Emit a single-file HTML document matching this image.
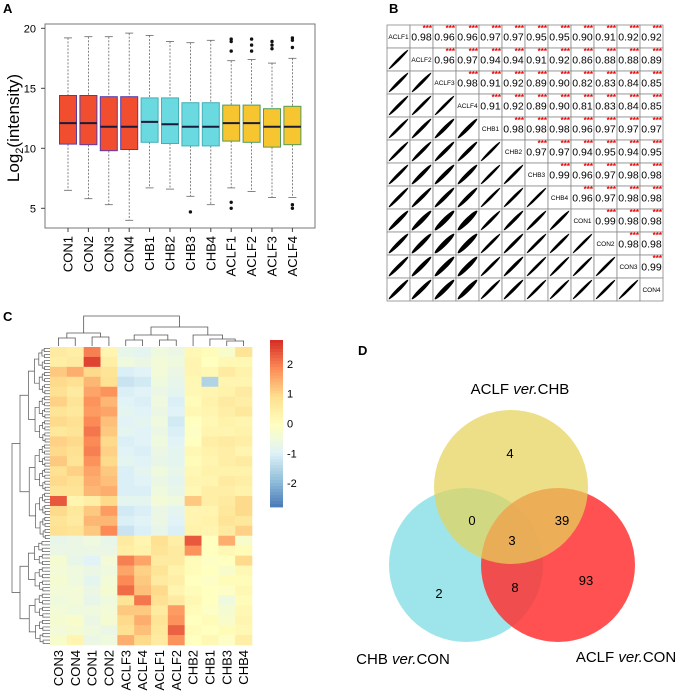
<!DOCTYPE html>
<html><head><meta charset="utf-8"><style>
body{margin:0;background:#fff}
svg{display:block;font-family:"Liberation Sans",Arial,sans-serif}
</style></head><body>
<svg id="fig" width="685" height="697" viewBox="0 0 685 697">
<g id="pa"></g>
<g id="pb"></g>
<g id="pc"></g>
<g id="pd"></g>
</svg>
<script>
// ---------- Panel A data ----------
const samplesA=["CON1","CON2","CON3","CON4","CHB1","CHB2","CHB3","CHB4","ACLF1","ACLF2","ACLF3","ACLF4"];
const q3=[14.4,14.4,14.3,14.3,14.2,14.2,13.8,13.8,13.6,13.6,13.3,13.5];
const med=[12.1,12.1,11.8,11.8,12.2,12.0,11.8,11.8,12.1,12.1,11.8,11.8];
const q1=[10.35,10.3,9.8,9.9,10.5,10.4,10.2,10.2,10.6,10.5,10.1,10.3];
const whiskHi=[19.2,19.3,19.3,19.6,19.4,18.9,18.8,19.0,17.3,17.4,17.1,17.5];
const whiskLo=[6.5,5.8,5.3,4.0,6.7,6.6,6.0,5.3,6.7,6.4,5.9,5.9];
const outliers=[[],[],[],[],[],[],[4.7],[],[19.1,18.9,18.1,5.5,5.0],[19.1,18.6,18.1],[18.9,18.6,18.3],[19.2,19.0,18.4,5.3,5.0]];
const yTicksA=[5,10,15,20];
// ---------- Panel B data ----------
const namesB=["ACLF1","ACLF2","ACLF3","ACLF4","CHB1","CHB2","CHB3","CHB4","CON1","CON2","CON3","CON4"];
const corrRows=[
[0.98,0.96,0.96,0.97,0.97,0.95,0.95,0.90,0.91,0.92,0.92],
[0.96,0.97,0.94,0.94,0.91,0.92,0.86,0.88,0.88,0.89],
[0.98,0.91,0.92,0.89,0.90,0.82,0.83,0.84,0.85],
[0.91,0.92,0.89,0.90,0.81,0.83,0.84,0.85],
[0.98,0.98,0.98,0.96,0.97,0.97,0.97],
[0.97,0.97,0.94,0.95,0.94,0.95],
[0.99,0.96,0.97,0.98,0.98],
[0.96,0.97,0.98,0.98],
[0.99,0.98,0.98],
[0.98,0.98],
[0.99]];
// ---------- Panel C data ----------
const colsC=["CON3","CON4","CON1","CON2","ACLF3","ACLF4","ACLF1","ACLF2","CHB2","CHB1","CHB3","CHB4"];
const heatRows=[
[0.6,0.5,2.0,0.3,-0.7,-0.8,-0.5,-0.6,0.2,0.1,-0.2,0.8],
[0.5,0.6,2.6,0.5,-0.5,-0.6,-0.4,-0.5,0.3,0.0,0.2,0.2],
[1.2,1.5,1.0,0.8,-1.0,-0.9,-0.4,-0.6,0.3,0.2,0.6,0.4],
[1.0,0.9,1.4,0.9,-1.2,-1.1,-0.5,-0.7,0.2,-1.5,0.3,0.3],
[0.9,0.6,1.6,1.8,-1.0,-0.9,-0.6,-0.8,0.2,0.3,0.4,0.6],
[1.1,0.8,1.8,1.4,-0.9,-1.0,-0.5,-1.0,0.1,0.4,0.6,0.5],
[0.8,0.7,1.7,1.6,-0.8,-0.9,-0.6,-0.9,0.2,0.3,0.5,0.7],
[1.0,0.9,1.9,1.3,-0.9,-0.8,-0.5,-1.1,0.0,0.2,0.4,0.3],
[0.7,0.8,2.1,1.2,-0.8,-0.9,-0.6,-1.0,-0.1,0.3,0.3,0.4],
[1.1,1.0,1.9,1.0,-1.0,-0.9,-0.5,-0.9,0.0,0.5,0.6,0.5],
[1.0,0.9,2.0,1.1,-0.9,-1.0,-0.6,-0.8,0.2,0.4,0.5,0.3],
[1.2,0.8,1.8,1.0,-0.8,-0.9,-0.7,-0.8,0.1,0.3,0.5,0.6],
[0.9,1.1,1.6,1.2,-1.0,-0.8,-0.5,-0.7,0.2,0.4,0.4,0.4],
[1.0,0.9,1.5,1.3,-1.0,-0.9,-0.6,-0.8,0.3,0.3,0.6,0.5],
[0.8,0.8,1.4,1.5,-1.0,-1.0,-0.5,-0.7,0.2,0.5,0.5,0.4],
[2.4,0.3,0.5,1.0,-0.8,-0.8,-0.4,-0.5,1.2,0.5,0.6,1.0],
[1.0,0.7,1.2,1.7,-1.1,-1.0,-0.6,-0.8,0.3,0.3,0.7,1.0],
[0.8,0.6,1.4,1.4,-1.0,-0.9,-0.6,-0.9,0.3,0.4,0.8,0.7],
[0.9,0.8,1.2,1.9,-1.2,-1.0,-0.7,-1.0,0.4,0.3,0.6,1.1],
[-0.7,-0.6,-0.5,-0.7,0.6,0.3,0.9,0.5,2.4,0.0,1.5,-0.2],
[-0.6,-0.6,-0.6,-0.6,0.5,0.4,0.8,0.6,1.8,0.0,0.2,0.1],
[-0.3,-0.7,-0.9,-0.4,2.0,1.6,0.6,0.6,0.1,-0.1,0.0,1.0],
[-0.4,-0.5,-0.6,-0.5,1.6,1.1,0.8,0.4,0.1,0.0,-0.2,0.2],
[-0.3,-0.5,-0.8,-0.4,1.9,1.2,0.6,0.5,0.0,-0.1,0.1,0.1],
[-0.4,-0.4,-0.6,-0.3,2.2,1.3,1.0,0.3,0.1,0.0,-0.1,0.2],
[-0.5,-0.4,-0.7,-0.5,0.8,2.1,0.9,0.6,0.2,0.0,-0.5,0.1],
[-0.4,-0.5,-0.5,-0.4,1.2,1.2,0.6,1.7,0.1,-0.1,-0.3,0.2],
[-0.3,-0.2,-0.6,-0.3,1.0,1.5,0.8,1.8,0.0,0.1,-0.2,0.3],
[-0.4,-0.3,-0.5,-0.6,0.9,1.3,0.7,2.3,0.1,0.0,0.1,0.2],
[-0.2,0.3,-0.6,-0.5,1.5,1.0,0.6,1.8,0.0,0.2,-0.1,0.5]];
const legendTicks=[2,1,0,-1,-2];
// ---------- Panel D data ----------
const vennCounts=[4,0,39,3,2,8,93];
const vennSetLabels=["ACLF ver.CHB","CHB ver.CON","ACLF ver.CON"];

const NS="http://www.w3.org/2000/svg";
function mk(parent,tag,attrs,text){const e=document.createElementNS(NS,tag);for(const k in attrs)e.setAttribute(k,attrs[k]);if(text!==undefined)e.textContent=text;parent.appendChild(e);return e;}

// ===== Panel A =====
const pa=document.getElementById('pa');
let t=mk(pa,'text',{x:3,y:13,'font-size':13,'font-weight':'bold'},'A');


const ay=v=>148.3-(v-10)*12;
const ax=i=>68+i*20.4;
let fr=mk(pa,'rect',{x:45,y:24,width:270,height:204,fill:'none',stroke:'#777','stroke-width':1});


yTicksA.forEach(v=>{
  let l=mk(pa,'line',{x1:41,x2:45,y1:ay(v),y2:ay(v),stroke:'#444'});
  
  
  let tx=mk(pa,'text',{x:36,y:ay(v)+4,'font-size':11,'text-anchor':'end'},String(v));
  
  
});
let yl=mk(pa,'text',{x:0,y:0,'font-size':17,'text-anchor':'middle',transform:'translate(19,128) rotate(-90)'});
yl.innerHTML='Log<tspan font-size="11" dy="4">2</tspan><tspan dy="-4">(intensity)</tspan>';


const fills=["#f04e2e","#6ad9e0","#f7c530"],strokes=["#5a3aa8","#45b0b8","#4f9c5c"];
samplesA.forEach((s,i)=>{
  const g=Math.floor(i/4),x=ax(i),hw=8.5;
  const grp=mk(pa,'g',{});
  
  
  mk(grp,'line',{x1:x,x2:x,y1:ay(whiskHi[i]),y2:ay(q3[i]),stroke:'#666','stroke-dasharray':'2,1.5','stroke-width':0.8});
  mk(grp,'line',{x1:x,x2:x,y1:ay(q1[i]),y2:ay(whiskLo[i]),stroke:'#666','stroke-dasharray':'2,1.5','stroke-width':0.8});
  mk(grp,'line',{x1:x-4,x2:x+4,y1:ay(whiskHi[i]),y2:ay(whiskHi[i]),stroke:'#666','stroke-width':0.8});
  mk(grp,'line',{x1:x-4,x2:x+4,y1:ay(whiskLo[i]),y2:ay(whiskLo[i]),stroke:'#666','stroke-width':0.8});
  mk(grp,'rect',{x:x-hw,y:ay(q3[i]),width:hw*2,height:ay(q1[i])-ay(q3[i]),fill:fills[g],stroke:strokes[g],'stroke-width':1});
  mk(grp,'line',{x1:x-hw,x2:x+hw,y1:ay(med[i]),y2:ay(med[i]),stroke:'#1a1a3a','stroke-width':2});
  outliers[i].forEach(o=>mk(grp,'circle',{cx:x,cy:ay(o),r:1.7,fill:'#111'}));
  let tk=mk(pa,'line',{x1:x,x2:x,y1:228,y2:232,stroke:'#444'});
  
  
  let lb=mk(pa,'text',{x:0,y:0,'font-size':13,'text-anchor':'end',transform:`translate(${x+4.5},236) rotate(-90)`},s);
  
  
});

// ===== Panel B =====
const pb=document.getElementById('pb');
t=mk(pb,'text',{x:389,y:13,'font-size':13,'font-weight':'bold'},'B');


const bx0=387,by0=25,cs=23;
namesB.forEach((n,i)=>{
  namesB.forEach((m,j)=>{
    const x=bx0+j*cs,y=by0+i*cs;
    const c=mk(pb,'rect',{x:x,y:y,width:cs,height:cs,fill:'#fff',stroke:'#888','stroke-width':0.8});
    
    
    if(i===j){
      const d=mk(pb,'text',{x:x+cs/2,y:y+cs/2+2.5,'font-size':6.5,'text-anchor':'middle'},n);
      
      
    } else if(j>i){
      const v=corrRows[i][j-i-1];
      const ct=mk(pb,'text',{x:x+cs/2,y:y+cs/2+4,'font-size':10.5,'text-anchor':'middle'},v.toFixed(2));
      
      
      const st=mk(pb,'text',{x:x+cs-1,y:y+6,'font-size':8,'text-anchor':'end',fill:'#e00','font-weight':'bold'},'***');
      
      
    } else {
      const v=corrRows[j][i-j-1];
      const w=2.5+(1-v)*14;
      const sp=mk(pb,'ellipse',{cx:x+cs/2,cy:y+cs/2,rx:cs*0.6,ry:w/2,fill:'#000',transform:`rotate(-45 ${x+cs/2} ${y+cs/2})`});
      
      
    }
  });
});

// ===== Panel C =====
const pc=document.getElementById('pc');
t=mk(pc,'text',{x:3,y:321,'font-size':13,'font-weight':'bold'},'C');


const hx0=50,hx1=252,hy0=347,hy1=645;
const cw=(hx1-hx0)/colsC.length,rh=(hy1-hy0)/heatRows.length;
const stops=[[-2.8,[69,117,180]],[-1.87,[145,191,219]],[-0.93,[224,243,248]],[0,[255,255,191]],[0.93,[254,224,144]],[1.87,[252,141,89]],[2.8,[215,48,39]]];
function col(v){v=Math.max(-2.8,Math.min(2.8,v));for(let k=0;k<stops.length-1;k++){const a=stops[k],b=stops[k+1];if(v<=b[0]){const f=(v-a[0])/(b[0]-a[0]);return 'rgb('+a[1].map((c,i)=>Math.round(c+(b[1][i]-c)*f)).join(',')+')';}}return 'rgb(215,48,39)';}
heatRows.forEach((row,r)=>row.forEach((v,c)=>{
  const cell=mk(pc,'rect',{x:hx0+c*cw,y:hy0+r*rh,width:cw+0.3,height:rh+0.3,fill:col(v)});
  
  
}));
colsC.forEach((n,c)=>{
  const lb=mk(pc,'text',{x:0,y:0,'font-size':13,'text-anchor':'end',transform:`translate(${hx0+c*cw+cw/2+4.5},650) rotate(-90)`},n);
  
  
});
// column dendrogram
const dg=mk(pc,'g',{stroke:'#555','stroke-width':0.8,fill:'none'});


const cx=i=>hx0+i*cw+cw/2;
function join(g,xa,ya,xb,yb,yj){mk(g,'path',{d:`M${xa},${ya}V${yj}H${xb}V${yb}`});}
join(dg,cx(0),346,cx(1),346,338); join(dg,cx(2),346,cx(3),346,337);
join(dg,(cx(0)+cx(1))/2,338,(cx(2)+cx(3))/2,337,333);
join(dg,cx(4),346,cx(5),346,340); join(dg,cx(6),346,cx(7),346,340);
join(dg,(cx(4)+cx(5))/2,340,(cx(6)+cx(7))/2,340,335);
join(dg,cx(10),346,cx(11),346,341); join(dg,cx(9),346,(cx(10)+cx(11))/2,341,339);
join(dg,cx(8),346,(cx(9)+(cx(10)+cx(11))/2)/2,339,335);
const mA=(cx(4)+cx(5)+cx(6)+cx(7))/4,mB=(cx(8)+(cx(9)+(cx(10)+cx(11))/2)/2)/2;
join(dg,mA,335,mB,335,327);
join(dg,(cx(0)+cx(1)+cx(2)+cx(3))/4,333,(mA+mB)/2,327,316);
// row dendrogram
const rg=mk(pc,'g',{stroke:'#555','stroke-width':0.7,fill:'none'});


function tree(y0,y1,xj,depth){
  if(depth===0||y1-y0<3.5){const y=(y0+y1)/2;mk(rg,'line',{x1:xj,x2:50,y1:y,y2:y});return y;}
  const m=(y0+y1)/2;const step=(50-xj)*0.28;
  const a=tree(y0,m,xj+step,depth-1),b=tree(m,y1,xj+step*(1.1),depth-1);
  mk(rg,'path',{d:`M${xj+step},${a}H${xj}V${b}H${xj+step*1.1}`});
  return (a+b)/2;
}
const topY=tree(hy0,540,20,7),botY=tree(540,hy1,20,6);
mk(rg,'path',{d:`M20,${topY}H12V${botY}H20`});
// colour legend
const lg=mk(pc,'g',{});


const ly0=340,ly1=507;
for(let k=0;k<56;k++){const v=2.8-k*0.1;mk(lg,'rect',{x:270,y:ly0+k*(ly1-ly0)/56,width:13,height:(ly1-ly0)/56+0.4,fill:col(v)});}
const ly=v=>ly0+(2.8-v)/5.6*(ly1-ly0);
legendTicks.forEach(v=>{
  const lt=mk(lg,'text',{x:287,y:ly(v)+4,'font-size':11},String(v));
  
  
});

// ===== Panel D =====
const pd=document.getElementById('pd');
t=mk(pd,'text',{x:358,y:355,'font-size':13,'font-weight':'bold'},'D');


const circles=[[466,565,'rgb(140,224,230)',0.85,'venn-circle-chb-vs-con'],[558,565,'rgb(255,50,50)',0.85,'venn-circle-aclf-vs-con'],[511,487,'rgb(228,210,90)',0.72,'venn-circle-aclf-vs-chb']];
circles.forEach(c=>{
  const e=mk(pd,'circle',{cx:c[0],cy:c[1],r:77,fill:c[2],'fill-opacity':c[3]});
  
  
});
const regionPos=[[510,458],[472,525],[562,525],[512,545],[439,598],[515,592],[586,585]];
vennCounts.forEach((n,i)=>{
  const e=mk(pd,'text',{x:regionPos[i][0],y:regionPos[i][1],'font-size':13,'text-anchor':'middle'},String(n));
  
  
});
const labPos=[[520,394],[403,664],[626,662]];
vennSetLabels.forEach((s,i)=>{
  const p=s.split(' ver.');
  const e=mk(pd,'text',{x:labPos[i][0],y:labPos[i][1],'font-size':15,'text-anchor':'middle'});
  e.innerHTML=`${p[0]} <tspan font-style="italic">ver.</tspan>${p[1]}`;
  
  
});
</script>
</body></html>
